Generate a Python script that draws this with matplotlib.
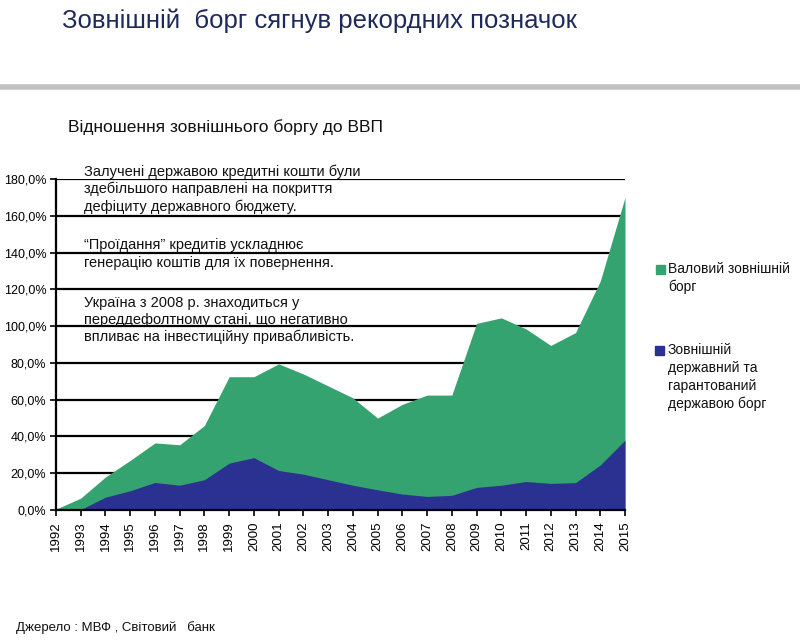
import numpy as np
import matplotlib
matplotlib.use("Agg")
import matplotlib.pyplot as plt
from matplotlib.lines import Line2D
from matplotlib.patches import Rectangle
from matplotlib.ticker import FuncFormatter

# data (% of GDP)
years = list(range(1992, 2016))
gross_debt = [0.5, 6.5, 18, 27, 36.5, 35.5, 46, 72.5, 72.5, 79.5, 74, 67.5, 61, 50,
              57.5, 62.5, 62.5, 101.5, 104.5, 98.5, 89.5, 96.5, 124.5, 170]
public_debt = [0, 0.3, 7, 10.5, 15, 13.5, 16.5, 25.5, 28.5, 21.5, 19.5, 16.5, 13.5, 11,
               8.7, 7.4, 8, 12.3, 13.5, 15.5, 14.5, 14.9, 24.5, 38]

title = "Зовнішній  борг сягнув рекордних позначок"
subtitle = "Відношення зовнішнього боргу до ВВП"
notes = ["Залучені державою кредитні кошти були\nздебільшого направлені на покриття\nдефіциту державного бюджету.",
         "\u201cПроїдання\u201d кредитів ускладнює\nгенерацію коштів для їх повернення.",
         "Україна з 2008 р. знаходиться у\nпереддефолтному стані, що негативно\nвпливає на інвестиційну привабливість."]
legend_labels = ["Валовий зовнішній\nборг", "Зовнішній\nдержавний та\nгарантований\nдержавою борг"]
source = "Джерело : МВФ , Світовий   банк"

GREEN = "#35a36f"
BLUE = "#2b3190"
NAVY = "#1f2a5c"
FONT = ["Liberation Sans", "DejaVu Sans"]

fig = plt.figure(figsize=(8, 6.44), dpi=100)
ax = fig.add_axes([0.07, 0.208, 0.71125, 0.514])

ax.fill_between(years, 0, gross_debt, color=GREEN, lw=0, zorder=2)
ax.fill_between(years, 0, public_debt, color=BLUE, lw=0, zorder=3)

ax.set_xlim(1992, 2015)
ax.set_ylim(0, 180)
ax.set_yticks(np.arange(0, 181, 20))
ax.yaxis.set_major_formatter(FuncFormatter(lambda v, p: f"{v:.1f}%".replace(".", ",")))
ax.set_xticks(years)
ax.set_xticklabels([str(y) for y in years], rotation=90, family=FONT, fontsize=9.5)
for lab in ax.get_yticklabels():
    lab.set_family(FONT)
    lab.set_fontsize(9)
ax.tick_params(axis="both", direction="out", length=4, width=1.2, colors="black", pad=3)
ax.tick_params(axis="x", pad=4)
ax.grid(axis="y", color="black", lw=1.6, zorder=1)
ax.set_axisbelow(True)
for s in ["top", "right"]:
    ax.spines[s].set_visible(False)
for s in ["left", "bottom"]:
    ax.spines[s].set_linewidth(1.6)
    ax.spines[s].set_zorder(4)

# annotations inside the plot area (vertical centre of each block, px from top)
note_y = [189, 254, 320]
for txt, yy in zip(notes, note_y):
    fig.text(84 / 800, 1 - yy / 644, txt, family=FONT, fontsize=10.5, va="center",
             linespacing=1.28, color="#111111")

# titles
fig.text(62 / 800, 1 - 21 / 644, title, family=FONT, fontsize=18.5, color=NAVY, va="center")
fig.add_artist(Line2D([0, 1], [1 - 87 / 644] * 2, transform=fig.transFigure,
                      color="#c2c2c2", lw=4))
fig.text(68 / 800, 1 - 127 / 644, subtitle, family=FONT, fontsize=12.5, color="#111111", va="center")

# legend
fig.add_artist(Rectangle((656 / 800, 1 - 274 / 644), 9 / 800, 9 / 644,
                         transform=fig.transFigure, color=GREEN))
fig.text(668 / 800, 1 - 262 / 644, legend_labels[0], family=FONT, fontsize=10,
         va="top", linespacing=1.35, color="#111111")
fig.add_artist(Rectangle((655 / 800, 1 - 355 / 644), 9 / 800, 9 / 644,
                         transform=fig.transFigure, color=BLUE))
fig.text(668 / 800, 1 - 343 / 644, legend_labels[1], family=FONT, fontsize=10,
         va="top", linespacing=1.35, color="#111111")

fig.text(16 / 800, 1 - 628 / 644, source, family=FONT, fontsize=9.5, va="center", color="#111111")

fig.savefig("out.png", dpi=100)
